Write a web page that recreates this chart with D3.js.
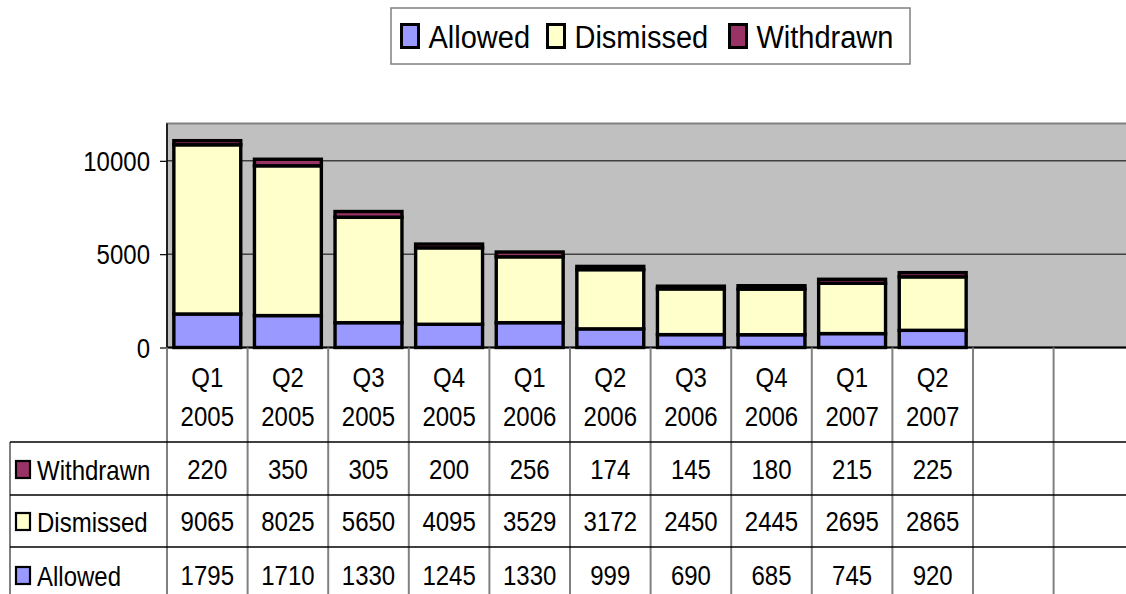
<!DOCTYPE html>
<html>
<head>
<meta charset="utf-8">
<script src="https://cdn.jsdelivr.net/npm/d3@7/dist/d3.min.js"></script>
<style>
html,body{margin:0;padding:0;background:#fff;}
svg{display:block;font-family:"Liberation Sans",Arial,sans-serif;}
</style>
</head>
<body>
<svg id="chart" width="1126" height="594"></svg>
<script>
const quarters = ["Q1","Q2","Q3","Q4","Q1","Q2","Q3","Q4","Q1","Q2"];
const years = ["2005","2005","2005","2005","2006","2006","2006","2006","2007","2007"];
const allowed = [1795,1710,1330,1245,1330,999,690,685,745,920];
const dismissed = [9065,8025,5650,4095,3529,3172,2450,2445,2695,2865];
const withdrawn = [220,350,305,200,256,174,145,180,215,225];
const seriesNames = ["Allowed","Dismissed","Withdrawn"];
const seriesColors = ["#9999FF","#FFFFCC","#993366"];
const yTicks = [0,5000,10000];
const slotCount = 12; // the chart shows two empty slots after the data

const svg = d3.select("#chart");
const plot = {left:167, top:123.5, bottom:347.5};
const colW = 80.6;
const x = d3.scaleBand().domain(d3.range(slotCount))
  .range([plot.left, plot.left + slotCount*colW]).paddingInner(0.17).paddingOuter(0.085);
const y = d3.scaleLinear().domain([0,12000]).range([plot.bottom, plot.top]);
const sy = 1.15;

// plot background
svg.append("rect").attr("x",plot.left).attr("y",plot.top)
  .attr("width",slotCount*colW).attr("height",plot.bottom-plot.top)
  .attr("fill","#C0C0C0").attr("stroke","#808080").attr("stroke-width",2);

// gridlines
svg.append("g").selectAll("line").data(yTicks.filter(d=>d>0)).join("line")
  .attr("x1",plot.left).attr("x2",1126).attr("y1",d=>y(d)).attr("y2",d=>y(d))
  .attr("stroke","#000").attr("stroke-width",1);

// stacked bars
const rows = quarters.map((q,i)=>({i, Allowed:allowed[i], Dismissed:dismissed[i], Withdrawn:withdrawn[i]}));
const stack = d3.stack().keys(seriesNames)(rows);
svg.append("g").selectAll("g").data(stack).join("g")
  .attr("fill",(d,k)=>seriesColors[k])
  .selectAll("rect").data(d=>d).join("rect")
  .attr("x",d=>x(d.data.i)).attr("width",x.bandwidth())
  .attr("y",d=>y(d[1])).attr("height",d=>y(d[0])-y(d[1]))
  .attr("stroke","#000").attr("stroke-width",3.4);

// y axis
const yAxis = svg.append("g").attr("transform",`translate(${plot.left},0)`)
  .call(d3.axisLeft(y).tickValues(yTicks).tickSize(7).tickPadding(0).tickFormat(d3.format("d")));
yAxis.select(".domain").attr("stroke","#000").attr("stroke-width",1.5).attr("d",`M0,${plot.top}V${plot.bottom}`);
yAxis.selectAll(".tick line").attr("stroke","#000").attr("stroke-width",1.2);
yAxis.selectAll(".tick text").each(function(){
  const t = d3.select(this);
  t.attr("x",null).attr("dy",null).attr("font-size",24).attr("fill","#000")
   .attr("text-anchor","end").attr("dominant-baseline","central")
   .attr("transform",`translate(-17,0) scale(1,${sy})`);
});

// x baseline
svg.append("line").attr("x1",plot.left).attr("x2",1126).attr("y1",plot.bottom).attr("y2",plot.bottom)
  .attr("stroke","#000").attr("stroke-width",2);

// data table
const tbl = svg.append("g");
const rowLines = [442, 495, 547];
const tableBottom = 600;
const boundaries = d3.range(slotCount+1).map(k=>plot.left + k*colW);
tbl.selectAll("line.v").data(boundaries).join("line").attr("class","v")
  .attr("x1",d=>d).attr("x2",d=>d).attr("y1",plot.bottom).attr("y2",tableBottom)
  .attr("stroke","#808080").attr("stroke-width",2);
tbl.append("line").attr("x1",10).attr("x2",10).attr("y1",rowLines[0]).attr("y2",tableBottom)
  .attr("stroke","#808080").attr("stroke-width",2);
tbl.selectAll("line.h").data(rowLines).join("line").attr("class","h")
  .attr("x1",10).attr("x2",1126).attr("y1",d=>d).attr("y2",d=>d)
  .attr("stroke","#000").attr("stroke-width",1.3);

function txt(g, x0, y0, s, anchor){
  return g.append("text").attr("transform",`translate(${x0},${y0}) scale(1,${sy})`)
    .attr("text-anchor",anchor||"middle").attr("dominant-baseline","central")
    .attr("font-size",24).attr("fill","#000").text(s);
}
const cx = i => plot.left + (i+0.5)*colW;
quarters.forEach((q,i)=>{ txt(tbl, cx(i), 377, q); txt(tbl, cx(i), 416, years[i]); });

const tableRows = [
  {name:"Withdrawn", vals:withdrawn, color:seriesColors[2]},
  {name:"Dismissed", vals:dismissed, color:seriesColors[1]},
  {name:"Allowed", vals:allowed, color:seriesColors[0]}
];
const rowCenters = [469, 521, 575];
tableRows.forEach((r,k)=>{
  const yc = rowCenters[k];
  tbl.append("rect").attr("x",16).attr("y",yc-8).attr("width",14).attr("height",17)
    .attr("fill",r.color).attr("stroke","#000").attr("stroke-width",2.2);
  txt(tbl, 37, yc+1, r.name, "start");
  r.vals.forEach((v,i)=> txt(tbl, cx(i), yc, String(v)));
});

// legend
const lg = svg.append("g");
lg.append("rect").attr("x",391).attr("y",8).attr("width",519).attr("height",56)
  .attr("fill","#fff").attr("stroke","#808080").attr("stroke-width",1.5);
const legendX = [400, 546, 728];
seriesNames.forEach((n,k)=>{
  lg.append("rect").attr("x",legendX[k]+1.5).attr("y",24.5).attr("width",17).attr("height",23)
    .attr("fill",seriesColors[k]).attr("stroke","#000").attr("stroke-width",3);
  lg.append("text").attr("transform",`translate(${legendX[k]+28.5},37) scale(1,1.05)`)
    .attr("dominant-baseline","central").attr("font-size",29).attr("fill","#000").text(n);
});
</script>
</body>
</html>
